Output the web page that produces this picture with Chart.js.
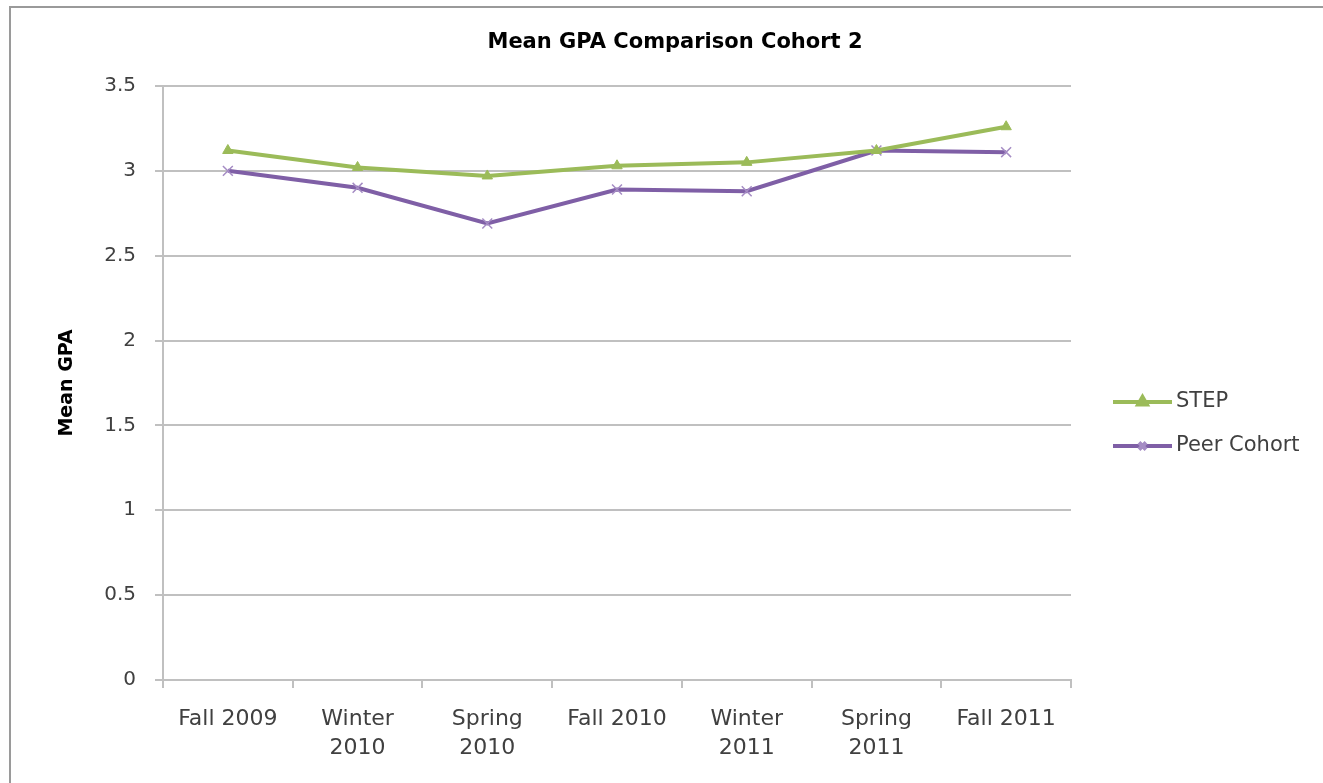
<!DOCTYPE html>
<html>
<head>
<meta charset="utf-8">
<title>Mean GPA Comparison Cohort 2</title>
<script src="https://cdn.jsdelivr.net/npm/chart.js@4/dist/chart.umd.min.js"></script>
<style>
  html, body { margin: 0; padding: 0; background: #fff; }
  #wrap { position: relative; width: 1323px; height: 783px; overflow: hidden; }
  #frame { position: absolute; left: 9px; top: 6px; width: 1400px; height: 900px;
           border-left: 2px solid #9a9a9a; border-top: 2px solid #9a9a9a; pointer-events: none; }
  canvas { position: absolute; left: 0; top: 0; }
</style>
</head>
<body>
<div id="wrap">
  <canvas id="gpaChart" width="1323" height="783"></canvas>
  <div id="frame"></div>
</div>
<script>
// --- Data ---
const chartTitle = 'Mean GPA Comparison Cohort 2';
const terms = [['Fall 2009'], ['Winter', '2010'], ['Spring', '2010'], ['Fall 2010'], ['Winter', '2011'], ['Spring', '2011'], ['Fall 2011']];
const stepGpa = [3.12, 3.02, 2.97, 3.03, 3.05, 3.12, 3.26];
const peerGpa = [3.00, 2.90, 2.69, 2.89, 2.88, 3.12, 3.11];
const yTicks = [0, 0.5, 1, 1.5, 2, 2.5, 3, 3.5];

const FONT = 'DejaVu Sans';
const GRID = '#c0c0c0';
const TEXT = '#404040';

// --- Title (centred on the whole picture) and legend on the right ---
const sideLegend = {
    id: 'sideLegend',
    afterDraw(chart) {
        const ctx = chart.ctx;
        ctx.save();
        ctx.fillStyle = '#000';
        ctx.font = 'bold 21px "' + FONT + '"';
        ctx.textAlign = 'center';
        ctx.textBaseline = 'middle';
        ctx.fillText(chartTitle, 675, 43);
        ctx.restore();

        const x0 = 1113, x1 = 1172;
        chart.data.datasets.forEach((ds, i) => {
            const y = 402 + i * 44;
            ctx.save();
            ctx.strokeStyle = ds.borderColor;
            ctx.lineWidth = ds.borderWidth;
            ctx.beginPath();
            ctx.moveTo(x0, y);
            ctx.lineTo(x1, y);
            ctx.stroke();
            ctx.fillStyle = ds.pointBackgroundColor;
            ctx.strokeStyle = ds.pointBorderColor;
            Chart.helpers.drawPoint(ctx, {
                pointStyle: ds.pointStyle, radius: 5, rotation: 0, borderWidth: ds.pointBorderWidth
            }, (x0 + x1) / 2, y);
            ctx.fillStyle = TEXT;
            ctx.font = '21px "' + FONT + '"';
            ctx.textBaseline = 'middle';
            ctx.textAlign = 'left';
            ctx.fillText(ds.label, x1 + 4, y);
            ctx.restore();
        });
    }
};

const ctx = document.getElementById('gpaChart').getContext('2d');
const gpaChart = new Chart(ctx, {
    type: 'line',
    data: {
        labels: terms,
        datasets: [{
            label: 'STEP',
            data: stepGpa,
            borderColor: '#9bbb59',
            borderWidth: 4,
            pointStyle: 'triangle',
            pointRadius: 6,
            pointBackgroundColor: '#9bbb59',
            pointBorderColor: '#9bbb59',
            pointBorderWidth: 1,
            tension: 0
        }, {
            label: 'Peer Cohort',
            data: peerGpa,
            borderColor: '#7f5fa6',
            borderWidth: 4,
            pointStyle: 'crossRot',
            pointRadius: 7,
            pointBackgroundColor: '#a58cc4',
            pointBorderColor: '#a58cc4',
            pointBorderWidth: 1.5,
            tension: 0
        }]
    },
    options: {
        responsive: false,
        animation: false,
        layout: { padding: { left: 0, right: 252, top: 86, bottom: 0 } },
        plugins: {
            legend: { display: false },
            tooltip: { enabled: false },
            title: { display: false }
        },
        scales: {
            x: {
                offset: true,
                grid: { offset: true, drawOnChartArea: false, drawTicks: true, tickLength: 8, color: GRID, lineWidth: 2 },
                border: { color: GRID, width: 2 },
                ticks: { color: TEXT, font: { family: FONT, size: 22, lineHeight: 1.35 }, padding: 16, maxRotation: 0, autoSkip: false },
                afterFit(scale) { scale.height = 103; }
            },
            y: {
                min: 0,
                max: 3.5,
                afterBuildTicks(scale) { scale.ticks = yTicks.map(v => ({ value: v })); },
                grid: { color: GRID, lineWidth: 2, tickLength: 8 },
                border: { color: GRID, width: 2 },
                ticks: { color: TEXT, font: { family: FONT, size: 20 }, padding: 19, callback: v => String(v) },
                title: {
                    display: true,
                    text: 'Mean GPA',
                    color: '#000',
                    font: { family: FONT, size: 19, weight: 'bold' },
                    padding: { top: 56, bottom: 0 }
                },
                afterFit(scale) { scale.width = 163; }
            }
        }
    },
    plugins: [sideLegend]
});
</script>
</body>
</html>
